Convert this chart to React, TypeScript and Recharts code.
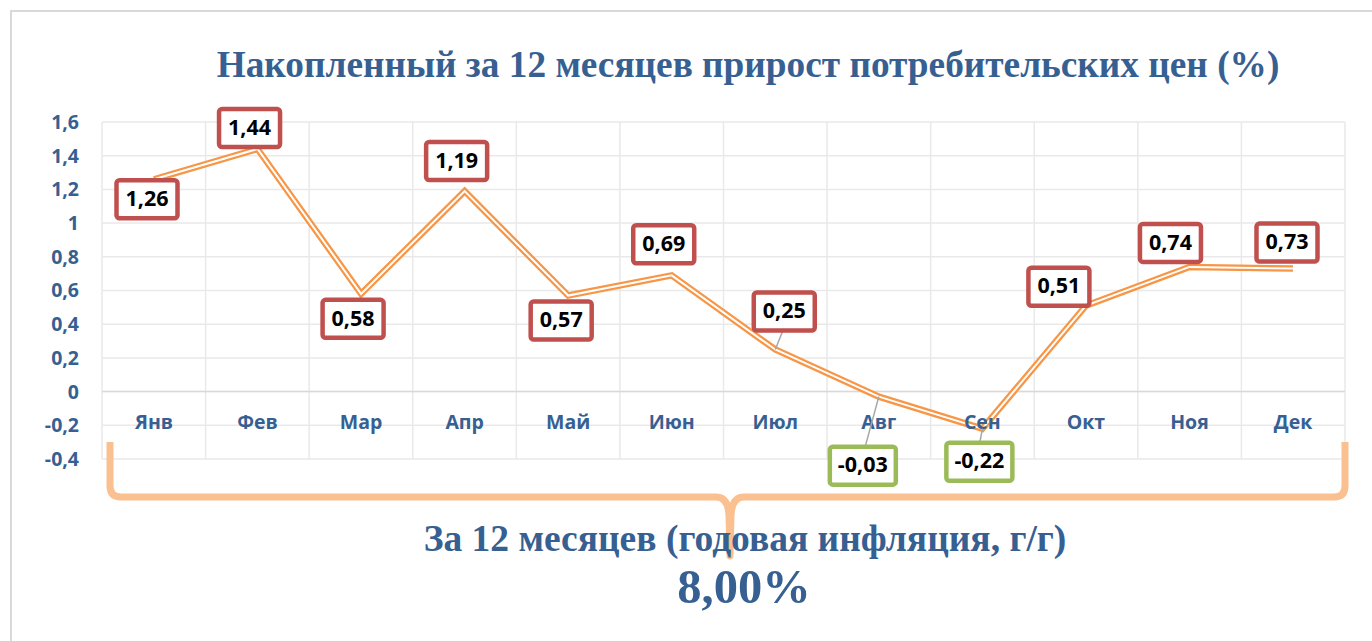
import { LineChart, Line, XAxis, YAxis, CartesianGrid, ReferenceLine, LabelList } from 'recharts'

const months = ['Янв', 'Фев', 'Мар', 'Апр', 'Май', 'Июн', 'Июл', 'Авг', 'Сен', 'Окт', 'Ноя', 'Дек']
const growth = [1.26, 1.44, 0.58, 1.19, 0.57, 0.69, 0.25, -0.03, -0.22, 0.51, 0.74, 0.73]
const yTicks = [-0.4, -0.2, 0, 0.2, 0.4, 0.6, 0.8, 1, 1.2, 1.4, 1.6]
const titleText = 'Накопленный за 12 месяцев прирост потребительских цен (%)'
const yearText = 'За 12 месяцев (годовая инфляция, г/г)'
const yearValue = '8,00%'

// where each label box sits relative to its point (px)
const labelDx = [-7, -8, -8, -8, -7, -8, 9, -16, -3, -27, -19, -6]
const labelDy = [20, -21, 25, -30, 25, -31, -38, 69, 33, -19, -24, -26]
const leader = [false, false, false, false, false, false, true, true, true, false, false, false]

const chartData = months.map((m, i) => ({ month: m, value: growth[i] }))

const BLUE = '#376092'
const SANS = '"Open Sans", "Noto Sans", sans-serif'
const SERIF = '"Liberation Serif", "Times New Roman", serif'

const fmt = (v: number) => String(v).replace('.', ',')

const MonthTick = (props: any) => {
    const { x, y, payload } = props
    return (
        <text x={x} y={y - 35} textAnchor="middle" dominantBaseline="middle"
            fill={BLUE} fontFamily={SANS} fontWeight={700} fontSize={19.5}>
            {payload.value}
        </text>
    )
}

const BoxLabel = (props: any) => {
    const { x, y, value, index } = props
    const neg = value < 0
    const w = neg ? 66 : 61
    const h = 38
    const cx = x + labelDx[index]
    const cy = y + labelDy[index]
    const edgeY = cy > y ? cy - h / 2 : cy + h / 2
    return (
        <g>
            {leader[index] && <line x1={x} y1={y} x2={cx + (x - cx) * 0.15} y2={edgeY} stroke="#a6a6a6" strokeWidth={1.5} />}
            <rect x={cx - w / 2} y={cy - h / 2} width={w} height={h} rx={3}
                fill="#fff" stroke={neg ? '#9bbb59' : '#c0504d'} strokeWidth={4.5} />
            <text x={cx} y={cy + 1} textAnchor="middle" dominantBaseline="middle"
                fontFamily={SANS} fontWeight={700} fontSize={21.5} fill="#000">
                {fmt(value)}
            </text>
        </g>
    )
}

const verticalGen = ({ offset }: any) =>
    Array.from({ length: months.length + 1 }, (_, i) => offset.left + (i * offset.width) / months.length)

export default function App() {
    return (
        <div style={{ position: 'absolute', left: 0, top: 0, width: 1372, height: 641, background: '#fff', overflow: 'hidden' }}>
            <div style={{ position: 'absolute', left: 10, top: 10, right: 0, bottom: 0, borderTop: '2px solid #d9d9d9', borderLeft: '2px solid #d9d9d9' }} />
            <LineChart width={1372} height={641} data={chartData}
                margin={{ top: 122, right: 27, bottom: 152, left: 22 }}>
                <CartesianGrid stroke="#e9e9e9" strokeWidth={1.5} verticalCoordinatesGenerator={verticalGen} />
                <ReferenceLine y={0} stroke="#d9d9d9" strokeWidth={1.5} />
                <XAxis dataKey="month" height={30} axisLine={false} tickLine={false} tickSize={0} tickMargin={0}
                    padding={{ left: 52, right: 52 }} tick={<MonthTick />} interval={0} />
                <YAxis width={80} domain={[-0.4, 1.6]} ticks={yTicks} axisLine={false} tickLine={false}
                    tickSize={0} tickMargin={23} tickFormatter={fmt} interval={0}
                    tick={{ fill: BLUE, fontFamily: SANS, fontWeight: 700, fontSize: 19.5 }} />
                <Line dataKey="value" stroke="#f79646" strokeWidth={6.5} dot={false} isAnimationActive={false} strokeLinejoin="miter" />
                <Line dataKey="value" stroke="#fff" strokeWidth={2} dot={false} isAnimationActive={false} strokeLinejoin="miter">
                    <LabelList dataKey="value" content={<BoxLabel />} />
                </Line>
            </LineChart>
            <svg width={1372} height={641} style={{ position: 'absolute', left: 0, top: 0, pointerEvents: 'none' }}>
                <text x={748} y={77} textAnchor="middle" fontFamily={SERIF} fontWeight={700} fontSize={37.3} fill={BLUE}>{titleText}</text>
                <path d="M 110 442 L 110 486 Q 110 497 121 497 L 716 497 Q 728 497 729 515 L 730 556 L 731 515 Q 732 497 744 497 L 1334 497 Q 1345 497 1345 486 L 1345 442"
                    fill="none" stroke="#fac090" strokeWidth={7} strokeLinejoin="round" />
                <text x={745} y={551} textAnchor="middle" fontFamily={SERIF} fontWeight={700} fontSize={37.5} fill={BLUE}>{yearText}</text>
                <text x={744} y={603} textAnchor="middle" fontFamily={SERIF} fontWeight={700} fontSize={48.5} fill={BLUE}>{yearValue}</text>
            </svg>
        </div>
    )
}
